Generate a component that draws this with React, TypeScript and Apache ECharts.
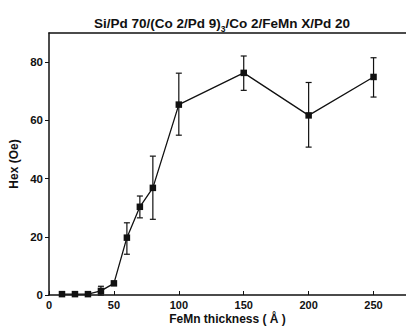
import React, { useEffect, useRef } from "react";
import * as echarts from "echarts";

const thickness = [10, 20, 30, 40, 50, 60, 70, 80, 100, 150, 200, 250];
const hex = [0.3, 0.3, 0.3, 1.4, 4.0, 19.7, 30.3, 36.8, 65.4, 76.3, 61.7, 74.9];
const errLow = [null, null, null, 0, null, 14, 26.5, 26, 54.9, 70.3, 50.8, 68];
const errHigh = [null, null, null, 3, null, 24.8, 34, 47.7, 76.2, 82.1, 73, 81.5];
const xTicks = [0, 50, 100, 150, 200, 250];
const yTicks = [0, 20, 40, 60, 80];

const FONT = "'Liberation Sans', Arial, sans-serif";

export default function App() {
  const ref = useRef<HTMLDivElement>(null);
  useEffect(() => {
    if (!ref.current) return;
    const chart = echarts.init(ref.current, null, { renderer: "svg" });
    const errData = thickness
      .map((x, i) => (errLow[i] == null ? null : [x, errLow[i], errHigh[i]]))
      .filter((d) => d != null);
    chart.setOption({
      animation: false,
      backgroundColor: "#fff",
      title: {
        text: "{a|Si/Pd 70/(Co 2/Pd 9)}{s|3}{a|/Co 2/FeMn X/Pd 20}",
        left: 217,
        textAlign: "center",
        top: 7,
        textStyle: {
          rich: {
            a: { fontFamily: FONT, fontSize: 13.5, fontWeight: "bold", color: "#111", lineHeight: 18, verticalAlign: "bottom" },
            s: { fontFamily: FONT, fontSize: 8.5, fontWeight: "bold", color: "#111", lineHeight: 18, verticalAlign: "bottom", padding: [0, 0, -3, 0] },
          },
        },
      },
      grid: { left: 48, right: -3, top: 33, bottom: 39 },
      xAxis: [
        {
          type: "value",
          min: 0,
          max: 275,
          interval: 50,
          name: "FeMn thickness ( Å )",
          nameLocation: "middle",
          nameGap: 17,
          nameMoveOverlap: false,
          nameTextStyle: { fontFamily: FONT, fontSize: 12, fontWeight: "bold", color: "#111", lineHeight: 13 },
          axisLine: { show: true, onZero: false, lineStyle: { color: "#111", width: 1.5 } },
          axisTick: { show: true, inside: true, length: 4, lineStyle: { color: "#111", width: 1 }, customValues: xTicks },
          axisLabel: {
            fontFamily: FONT,
            fontSize: 11,
            fontWeight: "bold",
            color: "#111",
            margin: 4,
            lineHeight: 12,
            customValues: xTicks,
          },
          splitLine: { show: false },
        },
        {
          type: "value",
          position: "top",
          min: 0,
          max: 275,
          axisLine: { show: true, onZero: false, lineStyle: { color: "#111", width: 1.5 } },
          axisTick: { show: false },
          axisLabel: { show: false },
          splitLine: { show: false },
        },
      ],
      yAxis: {
        type: "value",
        min: 0,
        max: 90,
        interval: 20,
        name: "Hex (Oe)",
        nameLocation: "middle",
        nameGap: 29,
        nameMoveOverlap: false,
        nameTextStyle: { fontFamily: FONT, fontSize: 12, fontWeight: "bold", color: "#111" },
        axisLine: { show: true, onZero: false, lineStyle: { color: "#111", width: 1.5 } },
        axisTick: { show: true, inside: false, length: 4, lineStyle: { color: "#111", width: 1 }, customValues: yTicks },
        axisLabel: { fontFamily: FONT, fontSize: 11.5, fontWeight: "bold", color: "#111", margin: 6, customValues: yTicks },
        splitLine: { show: false },
      },
      series: [
        {
          type: "custom",
          xAxisIndex: 0,
          data: errData,
          z: 1,
          renderItem: (params: any, api: any) => {
            const x = api.value(0);
            const lo = api.coord([x, api.value(1)]);
            const hi = api.coord([x, api.value(2)]);
            const w = 3;
            const style = { stroke: "#111", lineWidth: 1.2 };
            return {
              type: "group",
              children: [
                { type: "line", shape: { x1: lo[0], y1: lo[1], x2: hi[0], y2: hi[1] }, style },
                { type: "line", shape: { x1: lo[0] - w, y1: lo[1], x2: lo[0] + w, y2: lo[1] }, style },
                { type: "line", shape: { x1: hi[0] - w, y1: hi[1], x2: hi[0] + w, y2: hi[1] }, style },
              ],
            };
          },
        },
        {
          type: "line",
          xAxisIndex: 0,
          data: thickness.map((x, i) => [x, hex[i]]),
          symbol: "rect",
          symbolSize: 6.5,
          lineStyle: { color: "#111", width: 1.3 },
          itemStyle: { color: "#111" },
          z: 2,
        },
      ],
    });
    return () => chart.dispose();
  }, []);
  return <div ref={ref} style={{ width: 406, height: 334, position: "absolute", left: 0, top: 0 }} />;
}
